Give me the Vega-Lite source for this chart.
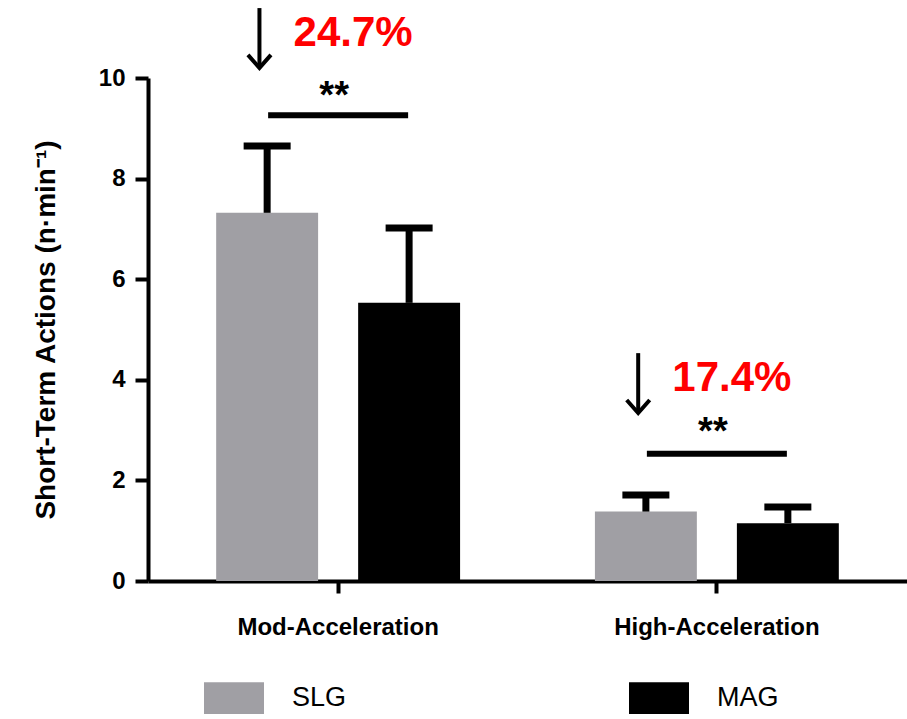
{
  "$schema": "https://vega.github.io/schema/vega-lite/v6.json",
  "width": 759,
  "height": 503,
  "autosize": {"type": "none"},
  "padding": {"left": 148, "top": 78, "right": 0, "bottom": 138},
  "background": "white",
  "config": {"view": {"stroke": null}, "font": "Liberation Sans"},
  "resolve": {"scale": {"xOffset": "independent"}},
  "datasets": {
    "bars": [
      {"cat": "Mod-Acceleration", "group": "SLG", "mean": 7.32, "err": 8.65},
      {"cat": "Mod-Acceleration", "group": "MAG", "mean": 5.53, "err": 7.02},
      {"cat": "High-Acceleration", "group": "SLG", "mean": 1.38, "err": 1.71},
      {"cat": "High-Acceleration", "group": "MAG", "mean": 1.15, "err": 1.47}
    ],
    "notes": [
      {"cat": "Mod-Acceleration", "slot": "a", "pct": "24.7%", "stars": "**", "arrowTop": 11.39, "arrowTip": 10.2, "pctY": 10.89, "starY": 9.62, "lineY": 9.26},
      {"cat": "High-Acceleration", "slot": "a", "pct": "17.4%", "stars": "**", "arrowTop": 4.53, "arrowTip": 3.34, "pctY": 4.03, "starY": 2.94, "lineY": 2.53}
    ]
  },
  "encoding": {
    "x": {
      "field": "cat",
      "type": "nominal",
      "sort": ["Mod-Acceleration", "High-Acceleration"],
      "scale": {"type": "band", "paddingInner": 0.356, "paddingOuter": 0.18},
      "axis": {
        "title": null,
        "labelAngle": 0,
        "domainWidth": 4,
        "domainColor": "black",
        "tickWidth": 4,
        "tickSize": 12,
        "tickColor": "black",
        "labelFontSize": 24,
        "labelFontWeight": "bold",
        "labelPadding": 22,
        "labelLimit": 400,
        "labelColor": "black"
      }
    }
  },
  "layer": [
    {
      "data": {"name": "bars"},
      "mark": {"type": "bar"},
      "encoding": {
        "xOffset": {"field": "group", "type": "nominal", "sort": ["SLG", "MAG"], "scale": {"type": "band", "domain": ["SLG", "MAG"], "paddingInner": 0.282, "paddingOuter": 0}},
        "y": {
          "field": "mean",
          "type": "quantitative",
          "scale": {"domain": [0, 10], "nice": false},
          "axis": {
            "values": [0, 2, 4, 6, 8, 10],
            "grid": false,
            "domainWidth": 4,
            "domainColor": "black",
            "tickWidth": 4,
            "tickColor": "black",
            "tickSize": 13,
            "labelFontSize": 24,
            "labelFontWeight": "bold",
            "labelColor": "black",
            "labelPadding": 10,
            "title": "Short-Term Actions (n·min⁻¹)",
            "titleFontSize": 28,
            "titleFontWeight": "bold",
            "titleColor": "black",
            "titlePadding": 38
          }
        },
        "color": {
          "field": "group",
          "type": "nominal",
          "scale": {"domain": ["SLG", "MAG"], "range": ["#a09fa4", "#000000"]},
          "legend": {
            "title": null,
            "orient": "none",
            "legendX": 56,
            "legendY": 590,
            "direction": "horizontal",
            "columns": 2,
            "columnPadding": 282,
            "padding": 0,
            "symbolType": "M-1,-0.53H1V0.53H-1Z",
            "symbolSize": 3600,
            "symbolStrokeWidth": 0,
            "symbolOpacity": 1,
            "labelFontSize": 27,
            "labelColor": "black",
            "labelOffset": 28,
            "labelLimit": 300
          }
        }
      }
    },
    {
      "data": {"name": "bars"},
      "mark": {"type": "rule", "color": "black", "strokeWidth": 7},
      "encoding": {
        "xOffset": {"field": "group", "type": "nominal", "sort": ["SLG", "MAG"], "scale": {"type": "band", "domain": ["SLG", "MAG"], "paddingInner": 0.282, "paddingOuter": 0}},
        "y": {"field": "mean", "type": "quantitative"},
        "y2": {"field": "err"}
      }
    },
    {
      "data": {"name": "bars"},
      "mark": {"type": "tick", "color": "black", "size": 47, "thickness": 7, "opacity": 1},
      "encoding": {
        "xOffset": {"field": "group", "type": "nominal", "sort": ["SLG", "MAG"], "scale": {"type": "band", "domain": ["SLG", "MAG"], "paddingInner": 0.282, "paddingOuter": 0}},
        "y": {"field": "err", "type": "quantitative"}
      }
    },
    {
      "data": {"name": "notes"},
      "mark": {"type": "tick", "color": "black", "size": 140, "thickness": 6, "opacity": 1},
      "encoding": {
        "y": {"field": "lineY", "type": "quantitative"}
      }
    },
    {
      "data": {"name": "notes"},
      "mark": {"type": "text", "fontSize": 38, "fontWeight": "bold", "color": "black", "baseline": "middle", "align": "center", "dx": -4},
      "encoding": {
        "y": {"field": "starY", "type": "quantitative"},
        "text": {"field": "stars"}
      }
    },
    {
      "data": {"name": "notes"},
      "mark": {"type": "rule", "color": "black", "strokeWidth": 4},
      "encoding": {
        "xOffset": {"field": "slot", "type": "nominal", "scale": {"type": "band", "domain": ["a", "b", "c"], "paddingInner": 0, "paddingOuter": 0.05}},
        "y": {"field": "arrowTop", "type": "quantitative"},
        "y2": {"field": "arrowTip"}
      }
    },
    {
      "data": {"name": "notes"},
      "mark": {"type": "point", "shape": "M-1,-1.13L0,0L1,-1.13", "size": 529, "filled": false, "color": "black", "strokeWidth": 4, "opacity": 1},
      "encoding": {
        "xOffset": {"field": "slot", "type": "nominal", "scale": {"type": "band", "domain": ["a", "b", "c"], "paddingInner": 0, "paddingOuter": 0.05}},
        "y": {"field": "arrowTip", "type": "quantitative"}
      }
    },
    {
      "data": {"name": "notes"},
      "mark": {"type": "text", "fontSize": 42, "fontWeight": "bold", "color": "#ff0000", "baseline": "middle", "align": "center", "dx": 15},
      "encoding": {
        "y": {"field": "pctY", "type": "quantitative"},
        "text": {"field": "pct"}
      }
    }
  ]
}
